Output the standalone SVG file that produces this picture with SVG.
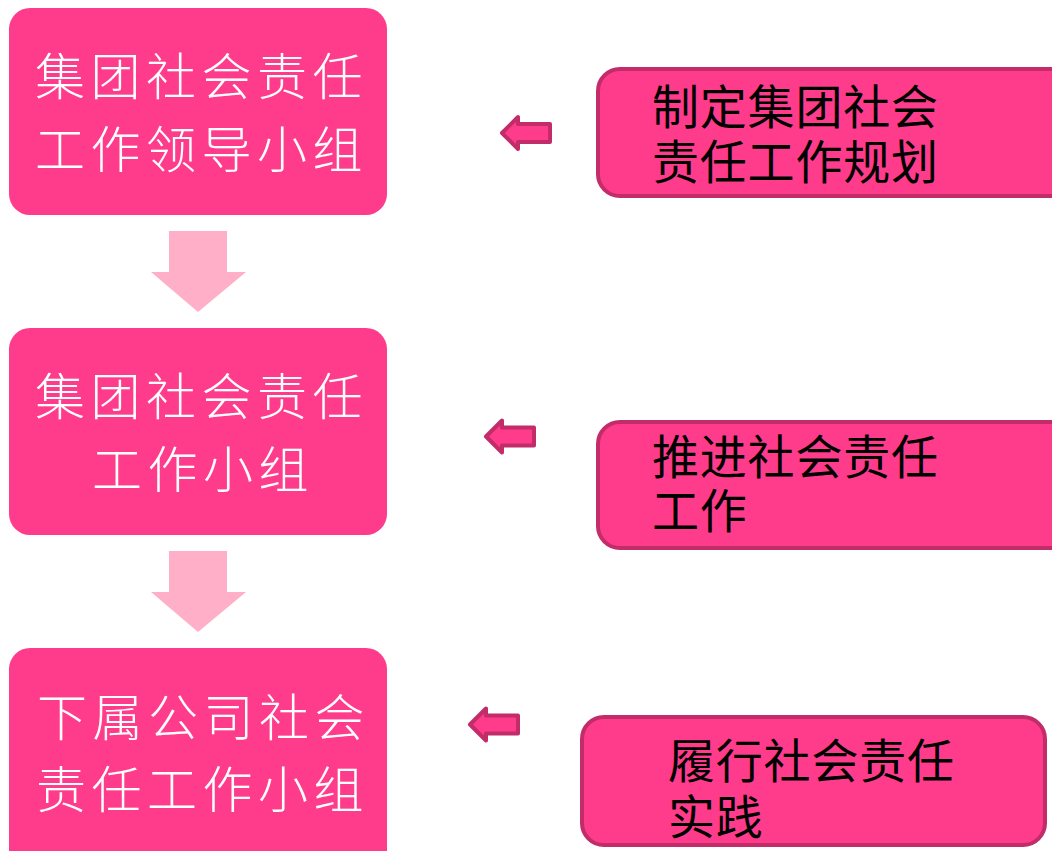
<svg xmlns="http://www.w3.org/2000/svg" width="1052" height="851" viewBox="0 0 1052 851">
  <style>
    .lbox { fill: #FF3B8B; }
    .rbox { fill: #FF3B8B; stroke: #C22C68; stroke-width: 4; }
    .down { fill: #FFAFC7; }
    .small { fill: #FF3B8B; stroke: #C22C68; stroke-width: 4; stroke-linejoin: round; }
    .lt { font-family: "Noto Sans CJK SC", "Noto Sans", sans-serif; font-size: 50px; font-weight: 300; fill: #FFFFFF; letter-spacing: 5.5px; }
    .rt { font-family: "Noto Sans CJK SC", "Noto Sans", sans-serif; font-size: 47px; fill: #000000; letter-spacing: 0.8px; }
  </style>
  <defs>
    <path id="smallArrow" d="M2,18.5 L18,2.5 L18,9.5 L50,9.5 L50,27.5 L18,27.5 L18,34.5 Z"/>
    <path id="downArrow" d="M169,231 L227,231 L227,272 L246,272 L198,312 L151,272 L169,272 Z"/>
  </defs>
  <rect width="1052" height="851" fill="#FFFFFF"/>

  <g id="connectors">
    <use href="#downArrow" class="down"/>
    <use href="#downArrow" class="down" transform="translate(0,320)"/>
    <use href="#smallArrow" class="small" transform="translate(500,114.5)"/>
    <use href="#smallArrow" class="small" transform="translate(484,418)"/>
    <use href="#smallArrow" class="small" transform="translate(468,706)"/>
  </g>

  <g id="node-leader">
    <rect class="lbox" x="9" y="8" width="378" height="207" rx="21"/>
    <text class="lt" x="35" y="95">集团社会责任</text>
    <text class="lt" x="35" y="168">工作领导小组</text>
  </g>

  <g id="node-group">
    <rect class="lbox" x="9" y="328" width="378" height="207" rx="21"/>
    <text class="lt" x="35" y="415">集团社会责任</text>
    <text class="lt" x="92" y="488">工作小组</text>
  </g>

  <g id="node-sub">
    <rect class="lbox" x="9" y="648" width="378" height="230" rx="21"/>
    <text class="lt" x="37" y="736">下属公司社会</text>
    <text class="lt" x="36" y="808">责任工作小组</text>
  </g>

  <g id="node-plan">
    <rect class="rbox" x="598" y="69" width="490" height="127" rx="22"/>
    <text class="rt" x="652" y="124">制定集团社会</text>
    <text class="rt" x="652" y="179">责任工作规划</text>
  </g>

  <g id="node-promote">
    <rect class="rbox" x="598" y="422" width="490" height="126" rx="22"/>
    <text class="rt" x="652" y="474">推进社会责任</text>
    <text class="rt" x="652" y="528">工作</text>
  </g>

  <g id="node-practice">
    <rect class="rbox" x="582" y="717" width="463" height="128" rx="22"/>
    <text class="rt" x="668" y="778">履行社会责任</text>
    <text class="rt" x="668" y="834">实践</text>
  </g>
</svg>
